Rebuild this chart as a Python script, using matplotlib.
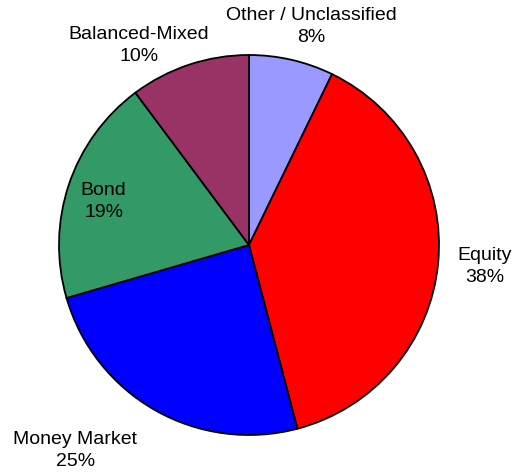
import matplotlib.pyplot as plt

categories = ["Other / Unclassified", "Equity", "Money Market", "Bond", "Balanced-Mixed"]
shares = [7.2, 38.7, 24.6, 19.3, 10.2]  # slice sizes as drawn
pct_labels = ["8%", "38%", "25%", "19%", "10%"]  # percentages as printed
colors = ["#9999FF", "#FF0000", "#0000FF", "#339966", "#993366"]
# label text positions, in units of pie radius
label_pos = [(0.33, 1.15), (1.24, -0.115), (-0.915, -1.08), (-0.765, 0.23), (-0.58, 1.05)]

plt.rcParams['font.family'] = ['Liberation Sans', 'DejaVu Sans']

W, H = 517, 474
fig = plt.figure(figsize=(W / 100, H / 100), dpi=100)
cx, cy, r = 249, 245, 190
ax = fig.add_axes([(cx - r) / W, (H - cy - r) / H, 2 * r / W, 2 * r / H])

ax.pie(shares, colors=colors, startangle=90, counterclock=False, radius=1,
       wedgeprops=dict(edgecolor='black', linewidth=1.3))
ax.set_xlim(-1, 1)
ax.set_ylim(-1, 1)
ax.set_aspect('equal')
ax.axis('off')

for name, pct, (x, y) in zip(categories, pct_labels, label_pos):
    ax.text(x, y, f"{name}\n{pct}", ha='center', va='center', fontsize=14,
            linespacing=1.38, clip_on=False)

fig.savefig("out.png", dpi=100)
